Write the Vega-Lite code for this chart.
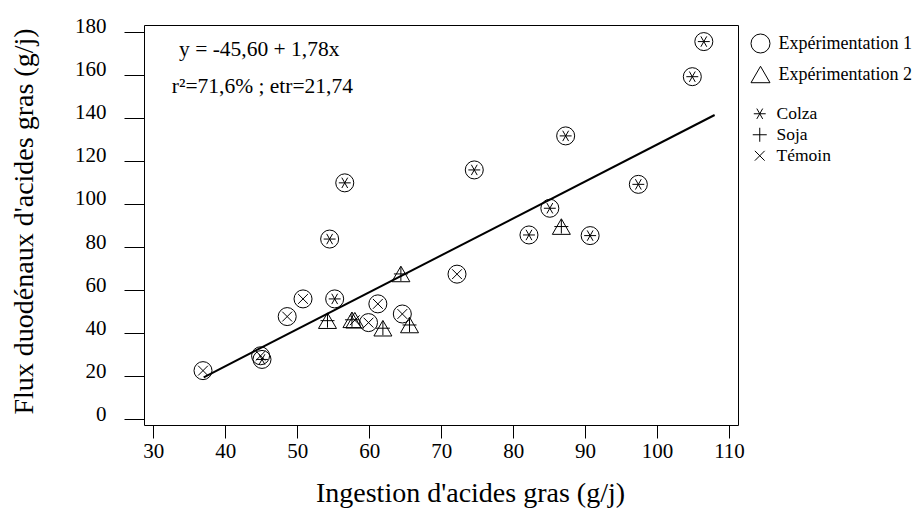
{
  "$schema": "https://vega.github.io/schema/vega-lite/v6.json",
  "width": 594,
  "height": 400,
  "autosize": {"type": "none"},
  "padding": {"left": 144, "top": 25, "right": 180, "bottom": 89},
  "background": "white",
  "datasets": {
    "pts": [
      {"x": 36.9, "y": 22.6, "exp": "Expérimentation 1", "trt": "Témoin"},
      {"x": 44.9, "y": 29.5, "exp": "Expérimentation 1", "trt": "Témoin"},
      {"x": 45.1, "y": 27.8, "exp": "Expérimentation 1", "trt": "Colza"},
      {"x": 48.6, "y": 47.7, "exp": "Expérimentation 1", "trt": "Témoin"},
      {"x": 50.8, "y": 55.9, "exp": "Expérimentation 1", "trt": "Témoin"},
      {"x": 55.2, "y": 55.9, "exp": "Expérimentation 1", "trt": "Colza"},
      {"x": 54.5, "y": 83.7, "exp": "Expérimentation 1", "trt": "Colza"},
      {"x": 56.6, "y": 109.8, "exp": "Expérimentation 1", "trt": "Colza"},
      {"x": 59.9, "y": 44.9, "exp": "Expérimentation 1", "trt": "Témoin"},
      {"x": 61.2, "y": 53.6, "exp": "Expérimentation 1", "trt": "Témoin"},
      {"x": 64.6, "y": 48.9, "exp": "Expérimentation 1", "trt": "Témoin"},
      {"x": 72.2, "y": 67.4, "exp": "Expérimentation 1", "trt": "Témoin"},
      {"x": 74.6, "y": 115.8, "exp": "Expérimentation 1", "trt": "Colza"},
      {"x": 82.2, "y": 85.6, "exp": "Expérimentation 1", "trt": "Colza"},
      {"x": 85.1, "y": 98.0, "exp": "Expérimentation 1", "trt": "Colza"},
      {"x": 87.3, "y": 131.6, "exp": "Expérimentation 1", "trt": "Colza"},
      {"x": 90.7, "y": 85.3, "exp": "Expérimentation 1", "trt": "Colza"},
      {"x": 97.4, "y": 109.1, "exp": "Expérimentation 1", "trt": "Colza"},
      {"x": 104.9, "y": 159.1, "exp": "Expérimentation 1", "trt": "Colza"},
      {"x": 106.5, "y": 175.4, "exp": "Expérimentation 1", "trt": "Colza"},
      {"x": 54.2, "y": 45.8, "exp": "Expérimentation 2", "trt": "Soja"},
      {"x": 57.6, "y": 46.2, "exp": "Expérimentation 2", "trt": "Soja"},
      {"x": 58.0, "y": 46.0, "exp": "Expérimentation 2", "trt": "Témoin"},
      {"x": 61.9, "y": 42.3, "exp": "Expérimentation 2", "trt": "Soja"},
      {"x": 65.6, "y": 43.8, "exp": "Expérimentation 2", "trt": "Soja"},
      {"x": 64.4, "y": 67.5, "exp": "Expérimentation 2", "trt": "Soja"},
      {"x": 86.7, "y": 89.5, "exp": "Expérimentation 2", "trt": "Soja"}
    ],
    "fit": [
      {"x": 37.0, "y": 19.5},
      {"x": 108.0, "y": 141.3}
    ],
    "eq": [
      {"x": 33.57, "y": 168.7, "label": "y = -45,60 + 1,78x"},
      {"x": 32.56, "y": 151.4, "label": "r²=71,6% ; etr=21,74"}
    ]
  },
  "encoding": {
    "x": {
      "field": "x",
      "type": "quantitative",
      "scale": {"domain": [28.7, 111.25], "nice": false, "zero": false},
      "axis": {
        "title": "Ingestion d'acides gras (g/j)",
        "values": [30, 40, 50, 60, 70, 80, 90, 100, 110],
        "tickSize": 13,
        "labelPadding": 2,
        "titleX": 326,
        "titleY": 76,
        "titleBaseline": "alphabetic",
        "titleAlign": "center"
      }
    },
    "y": {
      "field": "y",
      "type": "quantitative",
      "scale": {"domain": [-2.65, 183.1], "nice": false, "zero": false},
      "axis": {
        "title": "Flux duodénaux d'acides gras (g/j)",
        "values": [0, 20, 40, 60, 80, 100, 120, 140, 160, 180],
        "tickSize": 20,
        "labelPadding": 18,
        "labelBaseline": "alphabetic",
        "labelOffset": 1,
        "titleX": -106,
        "titleY": 196,
        "titleAngle": 270,
        "titleBaseline": "bottom",
        "titleAlign": "center"
      }
    }
  },
  "layer": [
    {
      "data": {"name": "fit"},
      "mark": {"type": "line", "color": "black", "strokeWidth": 2}
    },
    {
      "data": {"name": "pts"},
      "mark": {"type": "point", "filled": false, "color": "black", "strokeWidth": 1, "size": 324, "opacity": 1},
      "encoding": {
        "shape": {
          "field": "exp",
          "type": "nominal",
          "scale": {"domain": ["Expérimentation 1", "Expérimentation 2"], "range": ["circle", "triangle-up"]},
          "legend": {
            "title": null,
            "orient": "none",
            "legendX": 606.5,
            "legendY": 8.5,
            "symbolSize": 360,
            "rowPadding": 8,
            "labelOffset": 8
          }
        }
      }
    },
    {
      "data": {"name": "pts"},
      "mark": {"type": "point", "filled": false, "color": "black", "strokeWidth": 1, "size": 196, "opacity": 1},
      "encoding": {
        "shape": {
          "field": "trt",
          "type": "nominal",
          "scale": {
            "domain": ["Colza", "Soja", "Témoin"],
            "range": [
              "M-0.85,0L0.85,0M-0.42,-0.74L0.42,0.74M-0.42,0.74L0.42,-0.74",
              "M-1,0L1,0M0,-1L0,1",
              "M-0.7,-0.7L0.7,0.7M-0.7,0.7L0.7,-0.7"
            ]
          },
          "legend": {
            "title": null,
            "orient": "none",
            "legendX": 607,
            "legendY": 80,
            "symbolSize": 196,
            "rowPadding": 2,
            "labelOffset": 8,
            "labelFontSize": 17.5
          }
        }
      }
    },
    {
      "data": {"name": "eq"},
      "mark": {"type": "text", "align": "left", "baseline": "alphabetic", "font": "Liberation Serif", "fontSize": 21.5, "color": "black"},
      "encoding": {
        "text": {"field": "label", "type": "nominal"}
      }
    }
  ],
  "resolve": {"scale": {"shape": "independent"}},
  "config": {
    "view": {"stroke": "black", "strokeWidth": 1},
    "axis": {
      "domain": false,
      "grid": false,
      "tickColor": "black",
      "tickWidth": 1,
      "labelColor": "black",
      "labelFont": "Liberation Serif",
      "labelFontSize": 21,
      "titleColor": "black",
      "titleFont": "Liberation Serif",
      "titleFontSize": 28,
      "titleFontWeight": "normal"
    },
    "legend": {
      "labelFont": "Liberation Serif",
      "labelFontSize": 18,
      "labelColor": "black",
      "symbolStrokeColor": "black",
      "symbolFillColor": "transparent",
      "symbolStrokeWidth": 1,
      "padding": 0
    }
  }
}
